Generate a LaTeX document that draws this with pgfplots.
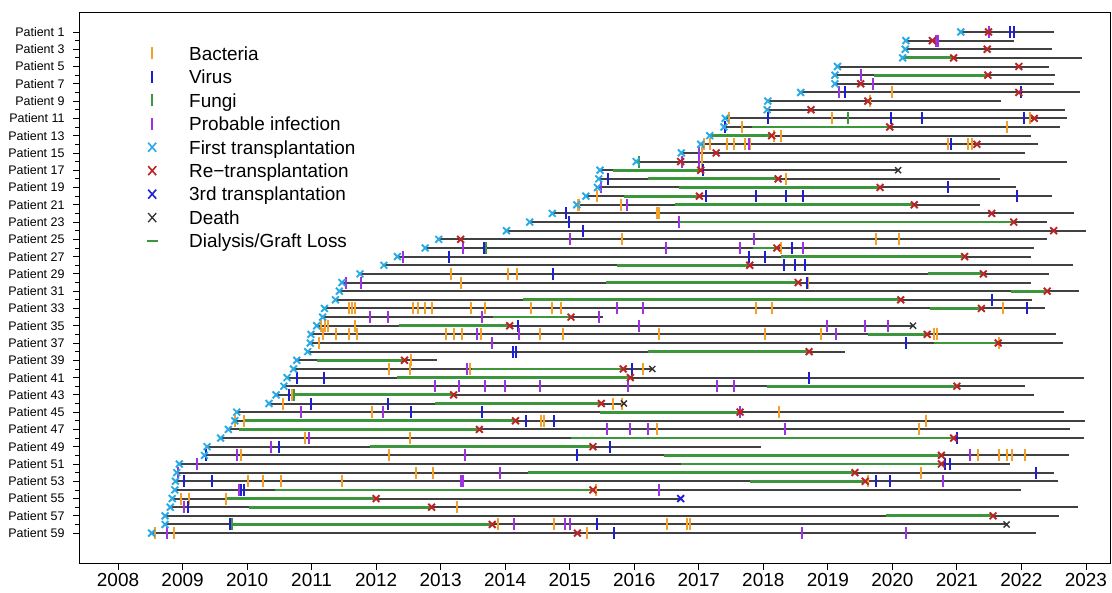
\documentclass[border=0pt]{standalone}
\usepackage{fontspec}
\setmainfont{Liberation Sans}
\usepackage{pgfplots}
\pgfplotsset{compat=1.18}
\definecolor{cBact}{RGB}{245,160,40}
\definecolor{cVir}{RGB}{30,30,215}
\definecolor{cFun}{RGB}{60,150,60}
\definecolor{cProb}{RGB}{160,50,230}
\definecolor{cFirst}{RGB}{40,170,230}
\definecolor{cRe}{RGB}{190,35,35}
\definecolor{cThird}{RGB}{30,30,215}
\definecolor{cDeath}{RGB}{50,50,50}
\definecolor{cDial}{RGB}{60,150,60}
\definecolor{cLine}{RGB}{65,65,65}
\pgfplotsset{
 tickmark/.style={only marks, mark=|, mark size=6bp, mark options={line width=2bp}, forget plot},
 crossmark/.style={only marks, mark=x, mark size=4.8bp, mark options={line width=1.9bp}, forget plot},
 legsym/.style={legend image code/.code={\path[draw=none,fill=none] (0bp,-6bp) rectangle (17bp,6bp); #1}},
}
\begin{document}
\begin{tikzpicture}
\path[use as bounding box] (-80bp,-30bp) rectangle (1032bp,563bp);
\begin{axis}[
 at={(0,0)}, anchor=south west,
 scale only axis, width=1030bp, height=551bp,
 xmin=2007.411, xmax=2023.373,
 ymin=-1.31, ymax=62.46, y dir=reverse,
 axis line style={line width=1bp, black},
 tick align=outside, xtick pos=bottom, ytick pos=left,
 major tick length=7bp, minor tick length=5bp,
 every tick/.style={black, line width=0.8bp},
 xtick={2008,2009,2010,2011,2012,2013,2014,2015,2016,2017,2018,2019,2020,2021,2022,2023},
 xticklabels={2008,2009,2010,2011,2012,2013,2014,2015,2016,2017,2018,2019,2020,2021,2022,2023},
 ytick={1,3,...,59}, minor ytick={2,4,...,58},
 yticklabels={Patient 1,Patient 3,Patient 5,Patient 7,Patient 9,Patient 11,Patient 13,Patient 15,Patient 17,Patient 19,Patient 21,Patient 23,Patient 25,Patient 27,Patient 29,Patient 31,Patient 33,Patient 35,Patient 37,Patient 39,Patient 41,Patient 43,Patient 45,Patient 47,Patient 49,Patient 51,Patient 53,Patient 55,Patient 57,Patient 59},
 x tick label style={font=\fontsize{19}{19}\selectfont},
 y tick label style={font=\fontsize{12.5}{12.5}\selectfont, xshift=-5bp},
 legend style={draw=none, fill=none, at={(0,1)}, anchor=north west, xshift=63.5bp, yshift=-32bp, inner sep=0pt, row sep=4.95bp, column sep=28.5bp, font=\fontsize{19}{23}\selectfont, nodes={inner sep=0pt, text height=16bp, text depth=2.5bp}},
 legend cell align=left,
]
% patient follow-up lines
\addplot[cLine, line width=2bp, unbounded coords=jump, forget plot] coordinates {
(2021.06,1)(2022.51,1)(nan,1)
(2020.21,2)(2021.88,2)(nan,2)
(2020.20,3)(2022.47,3)(nan,3)
(2020.16,4)(2022.94,4)(nan,4)
(2019.15,5)(2022.42,5)(nan,5)
(2019.11,6)(2022.52,6)(nan,6)
(2019.11,7)(2022.51,7)(nan,7)
(2018.58,8)(2022.91,8)(nan,8)
(2018.07,9)(2021.68,9)(nan,9)
(2018.06,10)(2022.68,10)(nan,10)
(2017.41,11)(2022.71,11)(nan,11)
(2017.39,12)(2022.60,12)(nan,12)
(2017.17,13)(2022.15,13)(nan,13)
(2017.03,14)(2022.26,14)(nan,14)
(2016.73,15)(2022.06,15)(nan,15)
(2016.03,16)(2022.70,16)(nan,16)
(2015.47,17)(2020.09,17)(nan,17)
(2015.45,18)(2021.67,18)(nan,18)
(2015.43,19)(2021.92,19)(nan,19)
(2015.25,20)(2022.47,20)(nan,20)
(2015.11,21)(2021.36,21)(nan,21)
(2014.73,22)(2022.81,22)(nan,22)
(2014.38,23)(2022.40,23)(nan,23)
(2014.02,24)(2023.00,24)(nan,24)
(2012.97,25)(2022.39,25)(nan,25)
(2012.76,26)(2022.20,26)(nan,26)
(2012.33,27)(2022.15,27)(nan,27)
(2012.12,28)(2022.80,28)(nan,28)
(2011.75,29)(2022.42,29)(nan,29)
(2011.47,30)(2022.15,30)(nan,30)
(2011.43,31)(2022.90,31)(nan,31)
(2011.37,32)(2022.16,32)(nan,32)
(2011.20,33)(2022.37,33)(nan,33)
(2011.17,34)(2015.51,34)(nan,34)
(2011.08,35)(2020.32,35)(nan,35)
(2010.99,36)(2022.54,36)(nan,36)
(2010.98,37)(2022.64,37)(nan,37)
(2010.94,38)(2019.26,38)(nan,38)
(2010.77,39)(2012.95,39)(nan,39)
(2010.72,40)(2016.28,40)(nan,40)
(2010.62,41)(2022.97,41)(nan,41)
(2010.57,42)(2022.06,42)(nan,42)
(2010.45,43)(2022.20,43)(nan,43)
(2010.34,44)(2015.84,44)(nan,44)
(2009.84,45)(2022.66,45)(nan,45)
(2009.81,46)(2022.98,46)(nan,46)
(2009.71,47)(2022.76,47)(nan,47)
(2009.59,48)(2022.97,48)(nan,48)
(2009.38,49)(2017.96,49)(nan,49)
(2009.34,50)(2022.74,50)(nan,50)
(2008.95,51)(2021.82,51)(nan,51)
(2008.91,52)(2022.51,52)(nan,52)
(2008.89,53)(2022.56,53)(nan,53)
(2008.88,54)(2021.99,54)(nan,54)
(2008.84,55)(2016.72,55)(nan,55)
(2008.81,56)(2022.88,56)(nan,56)
(2008.73,57)(2022.58,57)(nan,57)
(2008.73,58)(2021.77,58)(nan,58)
(2008.52,59)(2022.22,59)
};
% dialysis / graft loss
\addplot[cDial, line width=2.8bp, unbounded coords=jump, forget plot] coordinates {
(2020.16,4)(2020.95,4)(nan,4)
(2019.72,6)(2021.48,6)(nan,6)
(2017.82,12)(2019.96,12)(nan,12)
(2017.17,13)(2018.13,13)(nan,13)
(2015.67,17)(2017.03,17)(nan,17)
(2016.22,18)(2018.23,18)(nan,18)
(2016.69,19)(2019.81,19)(nan,19)
(2015.84,20)(2017.01,20)(nan,20)
(2016.63,21)(2020.34,21)(nan,21)
(2016.69,23)(2021.88,23)(nan,23)
(2017.84,26)(2018.21,26)(nan,26)
(2018.27,27)(2021.12,27)(nan,27)
(2015.73,28)(2017.79,28)(nan,28)
(2020.56,29)(2021.41,29)(nan,29)
(2015.56,30)(2018.54,30)(nan,30)
(2021.84,31)(2022.40,31)(nan,31)
(2014.28,32)(2020.13,32)(nan,32)
(2020.59,33)(2021.38,33)(nan,33)
(2013.81,34)(2015.02,34)(nan,34)
(2012.36,35)(2014.07,35)(nan,35)
(2019.62,36)(2020.54,36)(nan,36)
(2020.65,37)(2021.64,37)(nan,37)
(2016.22,38)(2018.71,38)(nan,38)
(2011.08,39)(2012.44,39)(nan,39)
(2013.49,40)(2015.83,40)(nan,40)
(2012.32,41)(2015.94,41)(nan,41)
(2018.06,42)(2021.00,42)(nan,42)
(2010.72,43)(2013.20,43)(nan,43)
(2012.92,44)(2015.49,44)(nan,44)
(2015.47,45)(2017.64,45)(nan,45)
(2009.95,46)(2014.16,46)(nan,46)
(2009.87,47)(2013.60,47)(nan,47)
(2015.02,48)(2020.95,48)(nan,48)
(2011.90,49)(2015.36,49)(nan,49)
(2016.46,50)(2020.76,50)(nan,50)
(2016.73,51)(2020.76,51)(nan,51)
(2014.36,52)(2019.42,52)(nan,52)
(2017.79,53)(2019.58,53)(nan,53)
(2010.43,54)(2015.36,54)(nan,54)
(2009.67,55)(2012.00,55)(nan,55)
(2010.03,56)(2012.86,56)(nan,56)
(2019.90,57)(2021.56,57)(nan,57)
(2009.77,58)(2013.80,58)
};
% bacteria
\addplot[tickmark, cBact] coordinates {
(2020.00,8)(2019.65,9)(2017.47,11)(2019.06,11)(2022.13,11)(2017.67,12)(2021.78,12)
(2018.17,13)(2018.27,13)
(2017.08,14)(2017.17,14)(2017.44,14)(2017.54,14)(2017.71,14)(2017.80,14)(2020.86,14)(2021.18,14)(2021.24,14)
(2017.05,15)(2017.05,16)(2018.35,18)(2015.43,20)(2015.13,21)(2015.15,21)(2015.80,21)
(2016.36,22)(2016.39,22)(2015.81,25)(2019.75,25)(2020.11,25)(2018.28,26)
(2013.16,29)(2014.04,29)(2014.18,29)(2013.31,30)(2018.69,30)
(2011.58,33)(2011.62,33)(2011.67,33)(2012.57,33)(2012.65,33)(2012.75,33)(2012.86,33)(2013.47,33)(2013.69,33)(2014.40,33)(2014.73,33)(2014.86,33)(2017.89,33)(2018.14,33)(2021.71,33)
(2011.15,35)(2011.21,35)(2011.26,35)(2011.67,35)
(2011.18,36)(2011.38,36)(2011.58,36)(2011.70,36)(2013.08,36)(2013.21,36)(2013.33,36)(2013.62,36)(2014.54,36)(2014.90,36)(2016.38,36)(2018.02,36)(2018.89,36)(2020.64,36)(2020.69,36)
(2011.12,37)(2021.65,37)(2012.54,39)(2012.20,40)(2012.53,40)(2013.45,40)(2016.14,40)
(2010.70,43)(2010.56,44)(2015.67,44)(2015.81,44)(2011.94,45)(2018.24,45)
(2009.82,46)(2009.95,46)(2014.56,46)(2014.60,46)(2020.52,46)(2016.35,47)(2020.42,47)
(2010.90,48)(2012.53,48)
(2009.91,50)(2012.20,50)(2021.33,50)(2021.65,50)(2021.78,50)(2021.85,50)(2022.06,50)
(2012.62,52)(2012.88,52)(2020.45,52)
(2010.02,53)(2010.24,53)(2010.53,53)(2011.47,53)(2019.62,53)
(2015.40,54)(2008.98,55)(2009.10,55)(2009.67,55)(2013.25,56)
(2013.89,58)(2014.75,58)(2016.51,58)(2016.82,58)(2016.87,58)
(2008.58,59)(2008.86,59)(2015.27,59)
};
% virus
\addplot[tickmark, cVir] coordinates {
(2021.82,1)(2021.89,1)(2019.26,8)(2021.99,8)
(2018.07,11)(2019.98,11)(2020.46,11)(2022.04,11)(2017.41,12)(2020.91,14)
(2017.07,17)(2015.59,18)(2020.86,19)
(2017.11,20)(2017.89,20)(2018.35,20)(2018.61,20)(2021.93,20)
(2014.95,22)(2014.99,23)(2015.21,24)(2013.67,26)(2018.44,26)
(2013.13,27)(2017.78,27)(2018.02,27)(2018.32,28)(2018.49,28)(2018.65,28)
(2014.74,29)(2018.67,30)(2021.54,32)(2022.09,33)(2014.20,35)(2020.21,37)
(2014.12,38)(2014.16,38)(2015.97,40)(2010.78,41)(2011.19,41)(2018.71,41)
(2010.65,43)(2010.99,44)(2012.18,44)(2012.54,45)(2013.64,45)(2014.32,46)(2014.76,46)
(2021.00,48)(2010.50,49)(2015.62,49)(2009.37,50)(2015.12,50)(2020.82,51)(2020.89,51)
(2022.22,52)(2009.03,53)(2009.46,53)(2019.74,53)(2019.97,53)(2009.91,54)(2009.95,54)
(2009.09,56)(2009.73,58)(2015.43,58)(2015.68,59)
};
% fungi
\addplot[tickmark, cFun] coordinates {
(2019.31,11)(2016.07,16)(2013.70,26)(2010.72,43)(2009.77,58)
};
% probable infection
\addplot[tickmark, cProb] coordinates {
(2021.50,1)(2020.68,2)(2020.70,2)(2019.51,6)(2019.70,7)(2019.17,8)(2017.78,14)
(2017.00,15)(2016.74,16)(2017.01,16)(2015.49,19)(2015.89,21)(2016.69,23)
(2015.00,25)(2017.86,25)(2013.35,26)(2016.49,26)(2017.64,26)(2018.61,26)
(2012.41,27)(2011.53,30)(2011.76,30)(2015.73,33)(2016.14,33)
(2011.90,34)(2012.19,34)(2013.64,34)(2015.45,34)
(2016.07,35)(2018.98,35)(2019.57,35)(2019.94,35)(2013.57,36)(2014.21,36)(2019.13,36)
(2013.80,37)(2013.41,40)
(2012.92,42)(2013.28,42)(2013.68,42)(2013.99,42)(2014.54,42)(2015.90,42)(2017.28,42)(2017.55,42)
(2010.84,45)(2012.11,45)(2017.64,45)(2015.58,47)(2015.93,47)(2016.22,47)(2018.34,47)
(2010.96,48)(2010.37,49)(2009.85,50)(2013.37,50)(2021.20,50)(2009.23,51)
(2008.93,52)(2013.92,52)(2013.31,53)(2013.35,53)(2020.78,53)(2009.88,54)(2016.39,54)
(2009.03,56)(2014.13,58)(2014.92,58)(2015.01,58)(2008.76,59)(2018.60,59)(2020.21,59)
};
% first transplantation
\addplot[crossmark, cFirst] coordinates {
(2021.06,1)(2020.21,2)(2020.20,3)(2020.16,4)(2019.15,5)(2019.11,6)(2019.11,7)(2018.58,8)
(2018.07,9)(2018.06,10)(2017.41,11)(2017.39,12)(2017.17,13)(2017.03,14)(2016.73,15)(2016.03,16)
(2015.47,17)(2015.45,18)(2015.43,19)(2015.25,20)(2015.11,21)(2014.73,22)(2014.38,23)(2014.02,24)
(2012.97,25)(2012.76,26)(2012.33,27)(2012.12,28)(2011.75,29)(2011.47,30)(2011.43,31)(2011.37,32)
(2011.20,33)(2011.17,34)(2011.08,35)(2010.99,36)(2010.98,37)(2010.94,38)(2010.77,39)(2010.72,40)
(2010.62,41)(2010.57,42)(2010.45,43)(2010.34,44)(2009.84,45)(2009.81,46)(2009.71,47)(2009.59,48)
(2009.38,49)(2009.34,50)(2008.95,51)(2008.91,52)(2008.89,53)(2008.88,54)(2008.84,55)(2008.81,56)
(2008.73,57)(2008.73,58)(2008.52,59)
};
% re-transplantation
\addplot[crossmark, cRe] coordinates {
(2021.49,1)(2020.62,2)(2021.47,3)(2020.95,4)(2021.96,5)(2021.48,6)(2019.51,7)(2021.96,8)
(2019.62,9)(2018.74,10)(2022.20,11)(2019.96,12)(2018.13,13)(2021.31,14)(2017.27,15)(2016.72,16)
(2017.03,17)(2018.23,18)(2019.81,19)(2017.01,20)(2020.34,21)(2021.54,22)(2021.88,23)(2022.50,24)
(2013.31,25)(2018.21,26)(2021.12,27)(2017.79,28)(2021.41,29)(2018.54,30)(2022.40,31)(2020.13,32)
(2021.38,33)(2015.02,34)(2014.07,35)(2020.54,36)(2021.64,37)(2018.71,38)(2012.44,39)(2015.83,40)
(2015.94,41)(2021.00,42)(2013.20,43)(2015.49,44)(2017.64,45)(2014.16,46)(2013.60,47)(2020.95,48)
(2015.36,49)(2020.76,50)(2020.76,51)(2019.42,52)(2019.58,53)(2015.36,54)(2012.00,55)(2012.86,56)
(2021.56,57)(2013.80,58)(2015.12,59)
};
% third transplantation
\addplot[crossmark, cThird] coordinates {(2016.72,55)};
% death
\addplot[crossmark, cDeath, mark size=4.3bp, mark options={line width=1.4bp}] coordinates {
(2020.09,17)(2020.32,35)(2016.28,40)(2015.84,44)(2021.77,58)
};
% legend
\addlegendimage{legsym={\draw[cBact, line width=1.5bp] (8.5bp,-6bp) -- (8.5bp,6bp);}}
\addlegendentry{Bacteria}
\addlegendimage{legsym={\draw[cVir, line width=1.5bp] (8.5bp,-6bp) -- (8.5bp,6bp);}}
\addlegendentry{Virus}
\addlegendimage{legsym={\draw[cFun, line width=1.5bp] (8.5bp,-6bp) -- (8.5bp,6bp);}}
\addlegendentry{Fungi}
\addlegendimage{legsym={\draw[cProb, line width=1.5bp] (8.5bp,-6bp) -- (8.5bp,6bp);}}
\addlegendentry{Probable infection}
\addlegendimage{legsym={\draw[cFirst, line width=1.6bp] (4.5bp,-4.5bp) -- (12.5bp,4.5bp) (4.5bp,4.5bp) -- (12.5bp,-4.5bp);}}
\addlegendentry{First transplantation}
\addlegendimage{legsym={\draw[cRe, line width=1.6bp] (4.5bp,-4.5bp) -- (12.5bp,4.5bp) (4.5bp,4.5bp) -- (12.5bp,-4.5bp);}}
\addlegendentry{Re−transplantation}
\addlegendimage{legsym={\draw[cThird, line width=1.6bp] (4.5bp,-4.5bp) -- (12.5bp,4.5bp) (4.5bp,4.5bp) -- (12.5bp,-4.5bp);}}
\addlegendentry{3rd transplantation}
\addlegendimage{legsym={\draw[cDeath, line width=1.3bp] (4.5bp,-4.5bp) -- (12.5bp,4.5bp) (4.5bp,4.5bp) -- (12.5bp,-4.5bp);}}
\addlegendentry{Death}
\addlegendimage{legsym={\draw[cDial, line width=2bp] (3bp,0bp) -- (14bp,0bp);}}
\addlegendentry{Dialysis/Graft Loss}
\end{axis}
\end{tikzpicture}
\end{document}
